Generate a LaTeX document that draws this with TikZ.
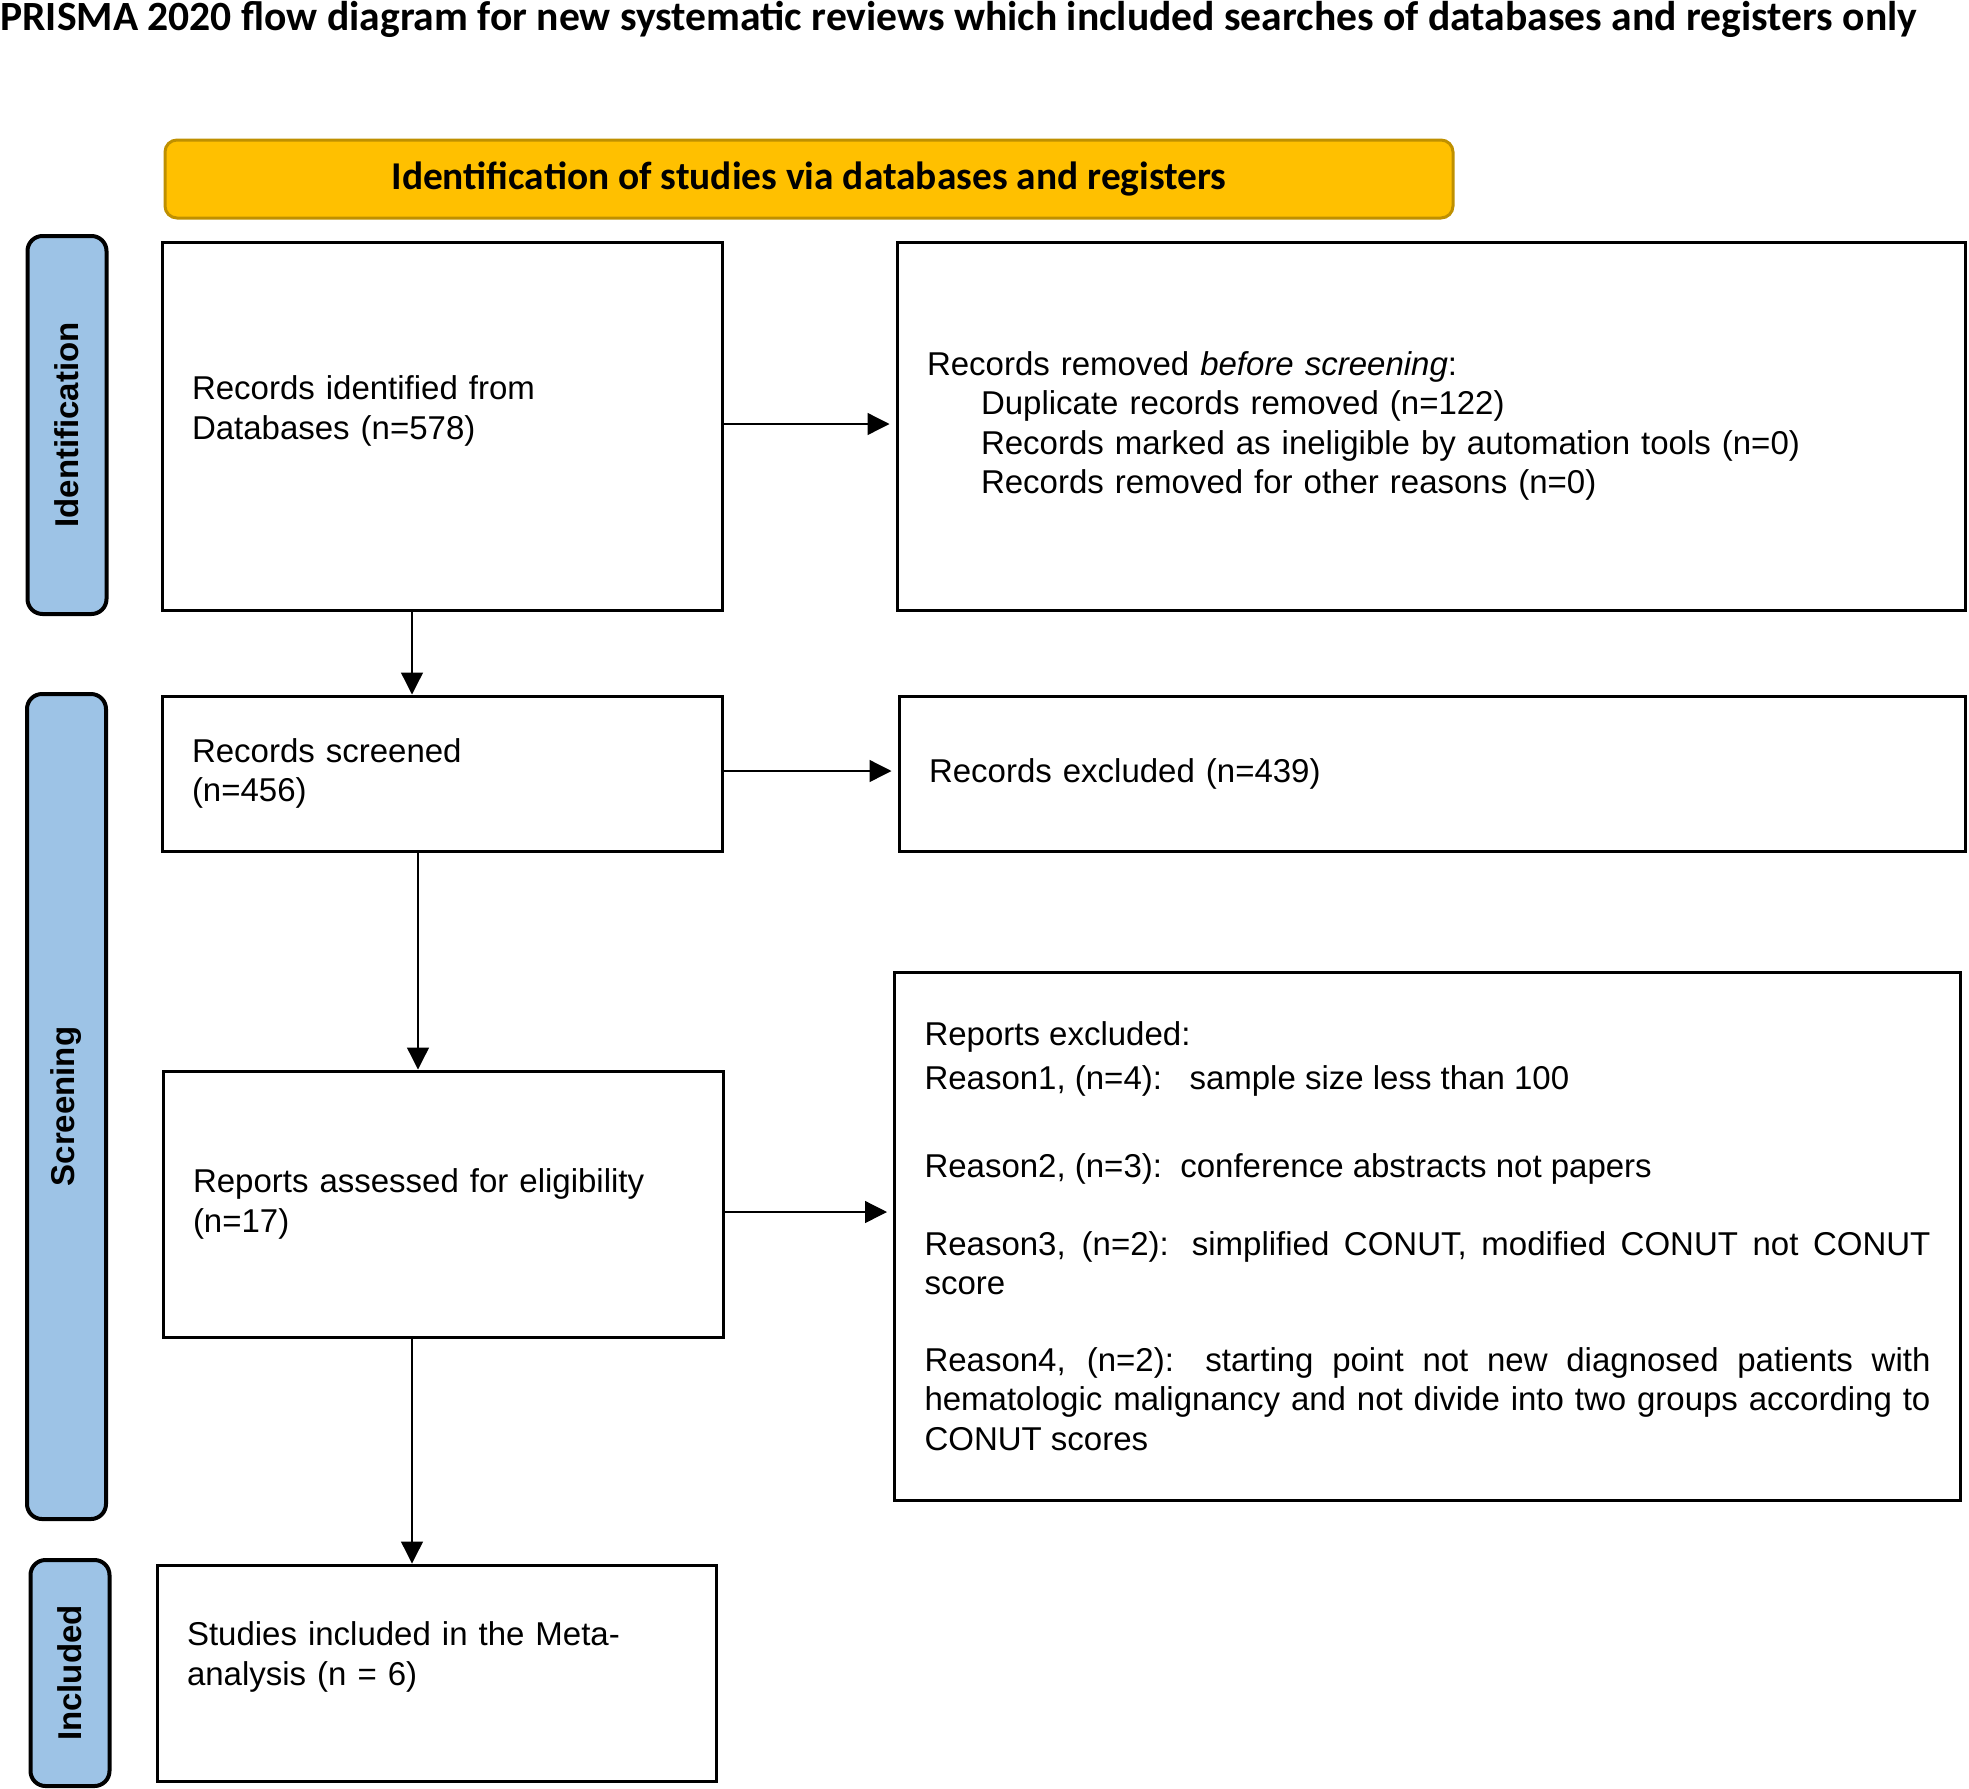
\documentclass[tikz,border=0pt]{standalone}
\usepackage{fontspec}
\setmainfont{Liberation Sans}
\newfontfamily\headfont{Carlito}
\usetikzlibrary{arrows.meta, positioning}
\usepackage{xcolor}
\definecolor{stageblue}{RGB}{157,195,230}
\definecolor{bannergold}{RGB}{255,192,0}
\definecolor{bannerrim}{RGB}{191,144,0}
\newcommand{\boxfont}{\fontsize{16.5}{19.6}\selectfont}
\newcommand{\liftgap}[1]{\par\vspace{#1}\hrule height 0pt width 0pt}
\setlength{\parindent}{0pt}

\begin{document}
\begin{tikzpicture}[
    x=0.5pt, y=-0.5pt,
    box/.style={
      rectangle, draw=black, line width=1.5pt, fill=white,
      inner xsep=15pt, align=left, font=\boxfont
    },
    stage/.style={
      rectangle, rounded corners=7.5pt,
      draw=black, line width=2pt, fill=stageblue,
      rotate=90, minimum height=39.5pt, inner sep=0pt,
      font=\boxfont\bfseries
    },
    banner/.style={
      rectangle, rounded corners=6pt,
      draw=bannerrim, line width=1.5pt, fill=bannergold,
      font=\headfont\bfseries\fontsize{19.7}{23}\selectfont
    },
    arrow/.style={-{Triangle[length=11pt, width=11pt]}, line width=0.65pt}
  ]
    \useasboundingbox (0,0) rectangle (1969,1788);

    % title and header bar
    \node[anchor=west, inner sep=0pt, font=\headfont\bfseries\fontsize{20.8}{24}\selectfont] (title) at (0,19)
      {PRISMA 2020 flow diagram for new systematic reviews which included searches of databases and registers only};
    \node[banner, minimum width=644pt, minimum height=39pt] (head) at (809,179)
      {Identification of studies via databases and registers};

    % stage labels
    \node[stage, minimum width=189pt] (idlab) at (67,425) {Identification};
    \node[stage, minimum width=412.5pt] (scrlab) at (66.5,1106.5) {Screening};
    \node[stage, minimum width=113pt] (inclab) at (70,1673) {Included};

    % boxes
    \node[box, text width=250pt, minimum height=184pt] (idrec) at (442,426)
      {Records identified from\\Databases (n=578)\liftgap{15pt}};
    \node[box, text width=504pt, minimum height=184pt] (removed) at (1431,426)
      {Records removed \textit{before screening}:\\
       \hspace*{27pt}Duplicate records removed (n=122)\\
       \hspace*{27pt}Records marked as ineligible by automation tools (n=0)\\
       \hspace*{27pt}Records removed for other reasons (n=0)};
    \node[box, text width=250pt, minimum height=77.5pt] (screened) at (442,773.5)
      {Records screened\\(n=456)};
    \node[box, text width=503pt, minimum height=77.5pt] (excluded) at (1432,773.5)
      {Records excluded (n=439)};
    \node[box, text width=250pt, minimum height=133pt] (assessed) at (443,1204)
      {Reports assessed for eligibility\\(n=17)};
    \node[box, text width=503pt, minimum height=264pt, align=justify] (rptexcl) at (1427.5,1236)
      {Reports excluded:\par\vspace{2.5pt}
       Reason1, (n=4):\ \ \ sample size less than 100\par\vspace{24pt}
       Reason2, (n=3):\ \ conference abstracts not papers\par\vspace{19.5pt}
       Reason3, (n=2): simplified CONUT, modified CONUT not CONUT score\par\vspace{19pt}
       Reason4, (n=2): starting point not new diagnosed patients with\linebreak
       hematologic malignancy and not divide into two groups according to\linebreak
       CONUT scores};
    \node[box, text width=249.5pt, minimum height=108pt] (included) at (436.5,1673)
      {Studies included in the Meta-\\analysis (n = 6)\liftgap{16pt}};

    % connectors
    \draw[arrow, shorten >=3pt] (idrec.east |- 0,424) -- (removed.west |- 0,424);
    \draw[arrow] (idrec.south -| 412,0) -- (screened.north -| 412,0);
    \draw[arrow, shorten >=3pt] (screened.east |- 0,771) -- (excluded.west |- 0,771);
    \draw[arrow] (screened.south -| 418,0) -- (assessed.north -| 418,0);
    \draw[arrow, shorten >=3pt] (assessed.east |- 0,1212) -- (rptexcl.west |- 0,1212);
    \draw[arrow] (assessed.south -| 412,0) -- (included.north -| 412,0);
\end{tikzpicture}
\end{document}
